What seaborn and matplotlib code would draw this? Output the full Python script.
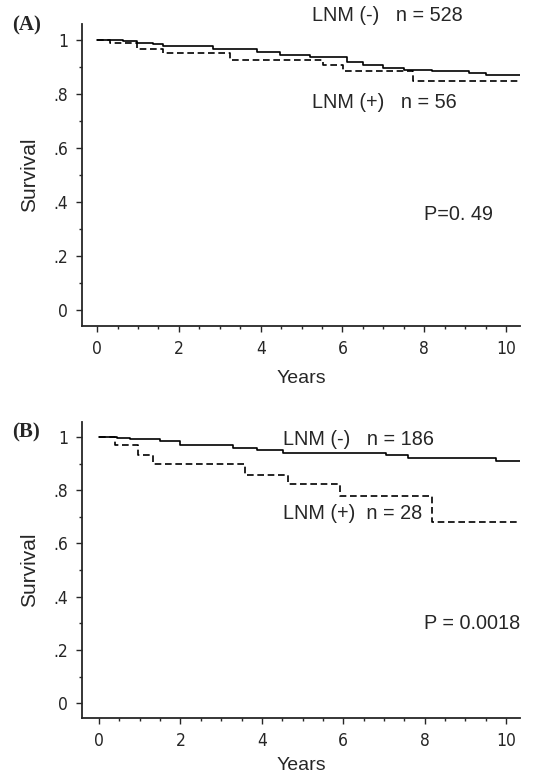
import pandas as pd
import numpy as np
import matplotlib
matplotlib.use("Agg")
import matplotlib.pyplot as plt
from matplotlib.ticker import MultipleLocator, FuncFormatter
import seaborn as sns

# Kaplan-Meier step points (years, survival)
a_neg_t = [0, 0.64, 0.97, 1.37, 1.62, 2.84, 3.91, 4.47, 5.21, 6.1, 6.5, 7.0, 7.5, 8.2, 9.1, 9.5, 10.4]
a_neg_s = [1.0, 0.995, 0.99, 0.984, 0.978, 0.968, 0.954, 0.944, 0.936, 0.92, 0.907, 0.897, 0.889, 0.885, 0.879, 0.869, 0.869]
a_pos_t = [0, 0.32, 0.97, 1.62, 3.25, 5.53, 6.02, 7.73, 10.4]
a_pos_s = [1.0, 0.988, 0.967, 0.951, 0.925, 0.907, 0.885, 0.849, 0.849]

b_neg_t = [0, 0.43, 0.76, 1.5, 1.98, 3.29, 3.87, 4.51, 7.05, 7.58, 9.75, 10.4]
b_neg_s = [1.0, 0.997, 0.991, 0.986, 0.97, 0.96, 0.95, 0.94, 0.931, 0.922, 0.91, 0.91]
b_pos_t = [0, 0.39, 0.96, 1.33, 3.58, 4.64, 5.91, 8.19, 10.4]
b_pos_s = [1.0, 0.97, 0.932, 0.898, 0.857, 0.822, 0.779, 0.682, 0.682]

sns.set_style("ticks")
plt.rcParams['font.family'] = ['Liberation Sans', 'DejaVu Sans']


def make_df(neg_t, neg_s, pos_t, pos_s):
    d1 = pd.DataFrame({'Years': neg_t, 'Survival': neg_s, 'group': 'LNM (-)'})
    d2 = pd.DataFrame({'Years': pos_t, 'Survival': pos_s, 'group': 'LNM (+)'})
    return pd.concat([d1, d2], ignore_index=True)


def y_fmt(v, pos):
    if abs(v) < 1e-9:
        return '0'
    if abs(v - 1) < 1e-9:
        return '1'
    return ('%.1f' % v)[1:]


fig = plt.figure(figsize=(5.38, 7.75), dpi=100)
ax_a = fig.add_axes([0.1524, 0.5794, 0.8141, 0.3896])
ax_b = fig.add_axes([0.1524, 0.0735, 0.8141, 0.382])

panels = [
    (ax_a, make_df(a_neg_t, a_neg_s, a_pos_t, a_pos_s), (-0.37, 10.34), (-0.06, 1.059), 9),
    (ax_b, make_df(b_neg_t, b_neg_s, b_pos_t, b_pos_s), (-0.42, 10.34), (-0.056, 1.056), 5),
]

for ax, df, xl, yl, xpad in panels:
    sns.lineplot(data=df, x='Years', y='Survival', style='group',
                 dashes={'LNM (-)': '', 'LNM (+)': (4, 2.2)},
                 color='black', linewidth=1.2, drawstyle='steps-post',
                 estimator=None, legend=False, ax=ax)
    ax.set_xlim(*xl)
    ax.set_ylim(*yl)
    sns.despine(ax=ax)
    ax.spines['left'].set_linewidth(1.3)
    ax.spines['bottom'].set_linewidth(1.3)
    ax.xaxis.set_major_locator(MultipleLocator(2))
    ax.xaxis.set_minor_locator(MultipleLocator(0.5))
    ax.yaxis.set_major_locator(MultipleLocator(0.2))
    ax.yaxis.set_minor_locator(MultipleLocator(0.1))
    ax.yaxis.set_major_formatter(FuncFormatter(y_fmt))
    ax.tick_params(which='major', length=4, width=1, labelsize=12.5, pad=6)
    ax.tick_params(which='minor', length=2.5, width=1)
    for lab in ax.get_xticklabels() + ax.get_yticklabels():
        lab.set_fontfamily('DejaVu Sans')
        lab.set_fontstretch('condensed')
    ax.set_xlabel('Years', fontsize=14, labelpad=xpad)
    ax.set_ylabel('Survival', fontsize=15, labelpad=10)

ax_a.text(5.26, 1.089, 'LNM (-)   n = 528', fontsize=14.3, ha='left', va='center', clip_on=False)
ax_a.text(5.26, 0.77, 'LNM (+)   n = 56', fontsize=14.3, ha='left', va='center')
ax_a.text(8.0, 0.352, 'P=0. 49', fontsize=14.3, ha='left', va='center')

ax_b.text(4.51, 0.992, 'LNM (-)   n = 186', fontsize=14.3, ha='left', va='center')
ax_b.text(4.51, 0.714, 'LNM (+)  n = 28', fontsize=14.3, ha='left', va='center')
ax_b.text(7.99, 0.30, 'P = 0.0018', fontsize=14.3, ha='left', va='center')

fig.text(12 / 538, 1 - 25 / 775, '(A)', fontsize=15, fontweight='bold',
         family='Liberation Serif', ha='left', va='center')
fig.text(12 / 538, 1 - 432 / 775, '(B)', fontsize=15, fontweight='bold',
         family='Liberation Serif', ha='left', va='center')

fig.savefig('out.png', dpi=100)
